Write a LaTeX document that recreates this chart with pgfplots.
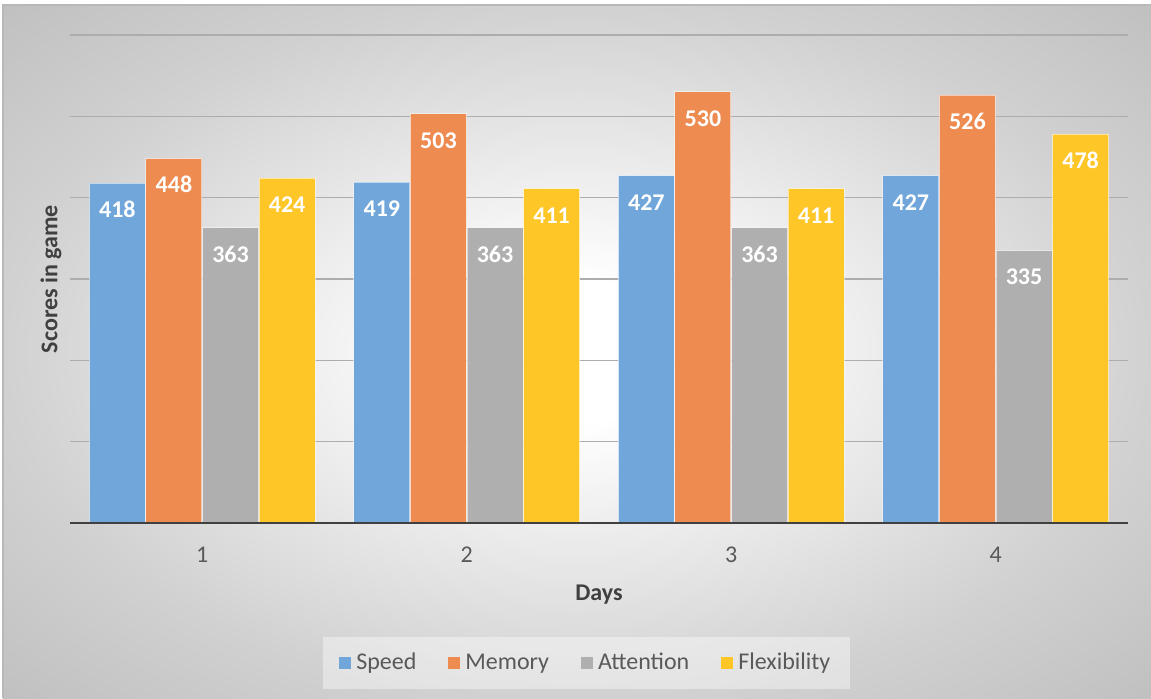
\documentclass[border=0pt]{standalone}
\usepackage{pgfplots}
\usepackage{pgfplotstable}
\pgfplotsset{compat=1.18}
\usepackage{fontspec}
\setmainfont{Carlito}

\definecolor{speedc}{RGB}{112,166,218}
\definecolor{memc}{RGB}{237,139,80}
\definecolor{attc}{RGB}{175,175,175}
\definecolor{flexc}{RGB}{255,198,40}
\definecolor{labc}{RGB}{89,89,89}
\definecolor{titc}{RGB}{64,64,64}

% soft radial backdrop: white in the middle, grey towards the corners
\pgfdeclareradialshading{chartbg}{\pgfpoint{0bp}{0bp}}{%
  color(0bp)=(white); color(5bp)=(white); color(25bp)=(black!18);
  color(36bp)=(black!25); color(50bp)=(black!25)}

\pgfplotstableread{
day speed memory attention flexibility
1 418 448 363 424
2 419 503 363 411
3 427 530 363 411
4 427 526 335 478
}\scores

\begin{document}
\begin{tikzpicture}
\useasboundingbox (0pt,0pt) rectangle (575.5pt,-349pt);
\fill[white] (0pt,0pt) rectangle (575.5pt,-349pt);
\shade[shading=chartbg] (1.5pt,-2.5pt) rectangle (575.5pt,-349pt);
\draw[black!28, line width=0.6pt] (1.5pt,-349pt) -- (1.5pt,-2.5pt) -- (575.5pt,-2.5pt);

\begin{axis}[
  at={(35pt,-261.5pt)}, anchor=south west,
  scale only axis, width=529pt, height=244pt,
  ybar=0.3pt, bar width=28pt,
  xmin=0.5, xmax=4.5, ymin=0, ymax=600,
  xtick={1,2,3,4},
  ytick={0,100,...,600}, yticklabels={},
  major tick length=0pt,
  ymajorgrids, grid style={black!32, line width=0.75pt},
  axis line style={draw=none},
  tick label style={font=\fontsize{12}{14}\selectfont, text=labc},
  /pgf/number format/assume math mode=true,
  xticklabel style={anchor=north, inner sep=0pt, yshift=-12pt},
  xlabel={Days},
  xlabel style={at={(axis description cs:0.5,0)}, anchor=north, inner sep=0pt,
    yshift=-31pt, font=\bfseries\fontsize{12}{14}\selectfont, text=titc},
  ylabel={Scores in game},
  ylabel style={at={(axis description cs:-0.0076,0.5)}, rotate=0, anchor=south,
    inner sep=0pt, font=\bfseries\fontsize{12}{14}\selectfont, text=titc},
  every axis plot/.append style={draw=white, draw opacity=0.55, line width=0.5pt},
  nodes near coords,
  nodes near coords align={vertical},
  every node near coord/.append style={font=\bfseries\fontsize{12}{14}\selectfont,
    text=white, inner sep=0pt, yshift=-17.5pt},
  legend columns=4,
  legend style={at={(rel axis cs:0.4885,-0.2870)}, anchor=center, draw=none,
    fill=white, fill opacity=0.4, text opacity=1, inner xsep=8pt, inner ysep=6pt,
    font=\fontsize{12}{14}\selectfont, text=labc,
    /tikz/every even column/.append style={column sep=14pt},
    /tikz/every odd column/.append style={column sep=0.5pt}},
  legend image code/.code={\fill[#1, draw=none, fill opacity=1] (0pt,-3pt) rectangle (6pt,3pt);},
]
\addplot[fill=speedc] table[x=day, y=speed] {\scores};
\addplot[fill=memc] table[x=day, y=memory] {\scores};
\addplot[fill=attc] table[x=day, y=attention] {\scores};
\addplot[fill=flexc] table[x=day, y=flexibility] {\scores};
\legend{Speed, Memory, Attention, Flexibility}
\draw[titc, line width=1.5pt] (axis cs:0.5,0) -- (axis cs:4.5,0);
\end{axis}
\end{tikzpicture}
\end{document}
